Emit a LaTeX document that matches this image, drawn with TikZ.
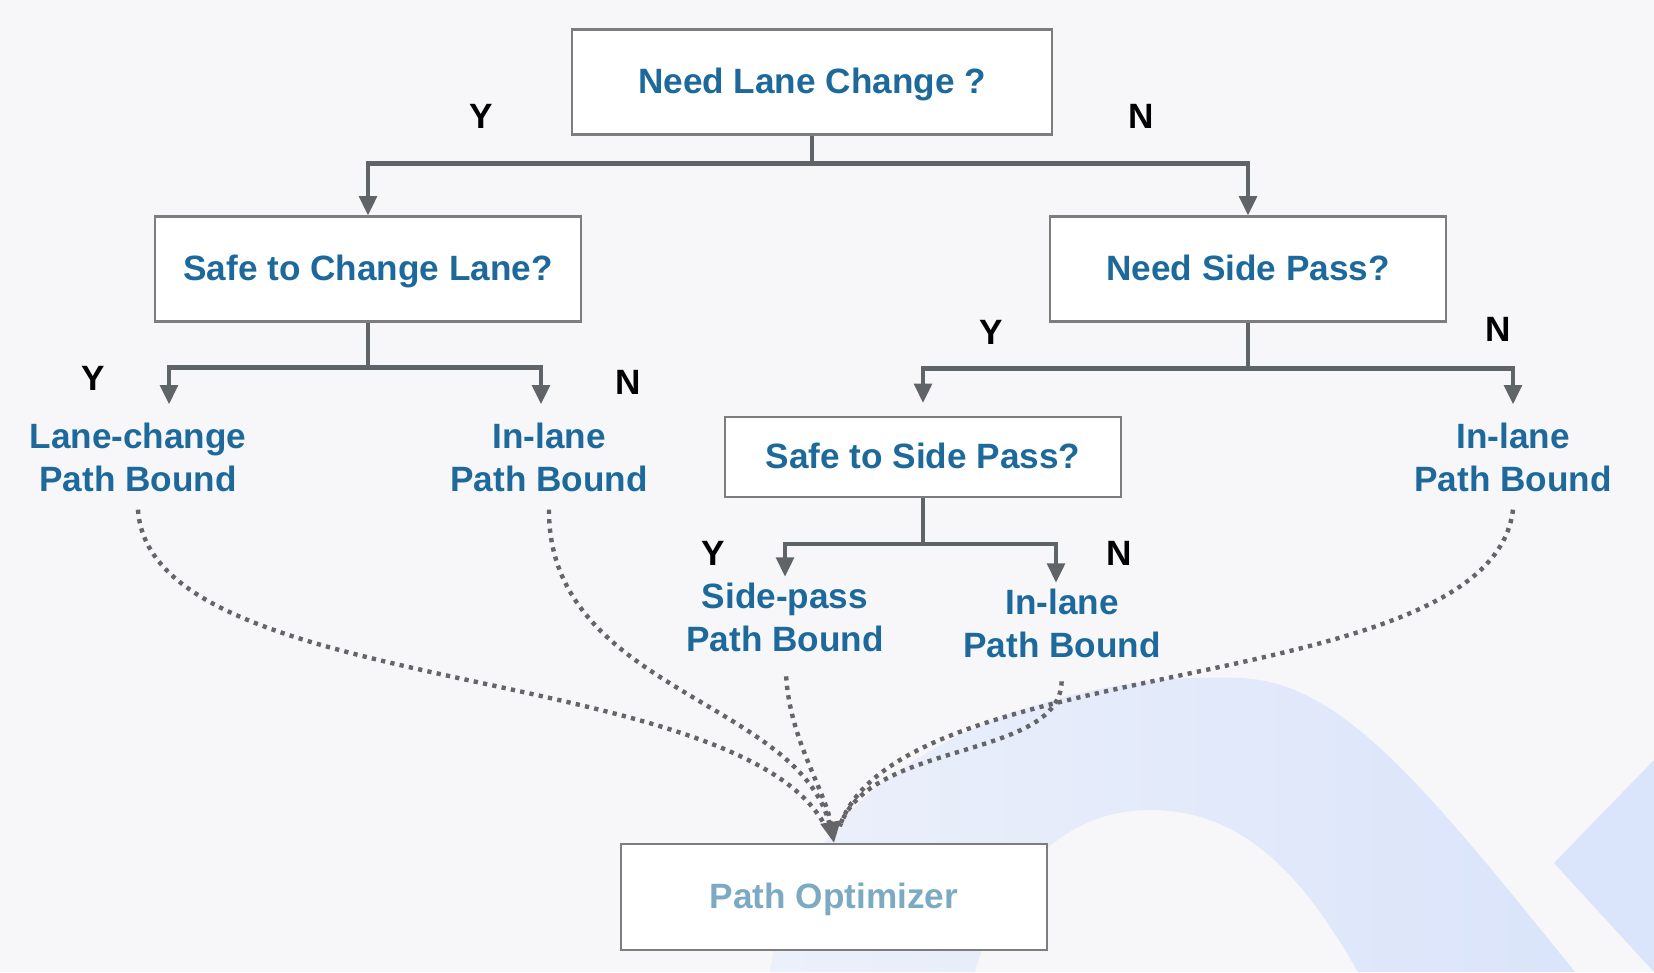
\documentclass[tikz,border=0pt]{standalone}
\usepackage{fontspec}
\setmainfont{Liberation Sans}
\usetikzlibrary{arrows.meta,positioning}
\definecolor{txtblue}{RGB}{30,105,155}
\definecolor{optblue}{RGB}{125,170,195}
\definecolor{boxgray}{RGB}{125,125,125}
\definecolor{conngray}{RGB}{95,100,105}
\definecolor{dotgray}{RGB}{100,100,105}
\definecolor{bggray}{RGB}{247,247,249}
\definecolor{swooshblue}{RGB}{218,228,250}
\definecolor{swooshpale}{RGB}{236,240,250}

\begin{document}
\begin{tikzpicture}[
        x=0.01cm, y=-0.01cm,
        box/.style={rectangle, draw=boxgray, line width=0.6pt, fill=white, text=txtblue,
            font=\fontsize{10}{12.2}\selectfont\bfseries, text height=7.3pt, text depth=0.5pt,
            minimum height=1.05cm},
        lbl/.style={align=center, text=txtblue, font=\fontsize{10}{12.2}\selectfont\bfseries,
            inner ysep=5pt, inner xsep=2pt},
        yn/.style={font=\fontsize{10}{12}\selectfont\bfseries, text=black},
        conn/.style={draw=conngray, line width=1.2pt, -{Triangle[length=5.5pt,width=5pt]}},
        dots/.style={draw=dotgray, line width=1.25pt, dash pattern=on 1.2pt off 1.5pt}
    ]
        % Background
        \fill[bggray] (0,0) rectangle (1654,972);
        \shade[left color=swooshpale, right color=swooshblue] (770,972) .. controls (800,760) and (1050,670) .. (1240,678)
            .. controls (1340,682) and (1420,780) .. (1575,972) -- (1358,972)
            .. controls (1300,870) and (1240,810) .. (1150,810)
            .. controls (1060,810) and (1000,880) .. (975,972) -- cycle;
        \fill[swooshblue] (1554,863) -- (1654,760) -- (1654,972) -- cycle;
        
        % Define decisions
        \node[box, minimum width=4.79cm] (need) at (812,82) {Need Lane Change ?};
        \node[box, minimum width=4.25cm] (safe) at (368,269) {Safe to Change Lane?};
        \node[box, minimum width=3.96cm] (side) at (1248,269) {Need Side Pass?};
        \node[box, minimum width=3.96cm, minimum height=0.8cm] (ssp) at (923,457) {Safe to Side Pass?};
        \node[box, minimum width=4.26cm, minimum height=1.06cm, text=optblue] (opt) at (834,897) {Path Optimizer};
        
        % Define path bounds
        \node[lbl] (lcb) at (138,457) {Lane-change\\Path Bound};
        \node[lbl] (ilb1) at (549,457) {In-lane\\Path Bound};
        \node[lbl] (ilb2) at (1513,457) {In-lane\\Path Bound};
        \node[lbl, inner ysep=1.5pt] (spb) at (785,617) {Side-pass\\Path Bound};
        \node[lbl, inner ysep=1.5pt] (ilb3) at (1062,623) {In-lane\\Path Bound};
        
        % Y / N labels
        \node[yn] (y1) at (481,116) {Y};
        \node[yn] (n1) at (1141,116) {N};
        \node[yn] (y2) at (93,378) {Y};
        \node[yn] (n2) at (628,382) {N};
        \node[yn] (y3) at (991,332) {Y};
        \node[yn] (n3) at (1498,329) {N};
        \node[yn] (y4) at (713,553) {Y};
        \node[yn] (n4) at (1119,553) {N};
        
        % Need Lane Change -> Safe to Change Lane / Need Side Pass
        \draw[conn] (need.south) -- ++(0,28) -| (safe.north);
        \draw[conn] (need.south) -- ++(0,28) -| (side.north);
        
        % Safe to Change Lane -> bounds
        \draw[conn] (safe.south) -- ++(0,45) -| ([xshift=0.31cm]lcb.north);
        \draw[conn] (safe.south) -- ++(0,45) -| ([xshift=-0.08cm]ilb1.north);
        
        % Need Side Pass -> Safe to Side Pass / In-lane
        \draw[conn, shorten >=0.13cm] (side.south) -- ++(0,46) -| (ssp.north);
        \draw[conn] (side.south) -- ++(0,46) -| (ilb2.north);
        
        % Safe to Side Pass -> bounds
        \draw[conn] (ssp.south) -- ++(0,46) -| (spb.north);
        \draw[conn] (ssp.south) -- ++(0,46) -| ([xshift=-0.06cm]ilb3.north);
        
        % Bounds -> Path Optimizer
        \draw[dots, shorten >=5pt] (lcb.south) .. controls (150,700) and (740,660) .. (opt.north);
        \draw[dots, shorten >=5pt] (ilb1.south) .. controls (548,690) and (800,700) .. (opt.north);
        \draw[dots, shorten >=5pt, shorten <=0.18cm] (ilb3.south) .. controls (1060,760) and (870,740) .. (opt.north);
        \draw[dots, shorten >=5pt] (ilb2.south) .. controls (1490,700) and (900,650) .. (opt.north);
        \draw[dots, shorten <=0.19cm, -{Triangle[length=6pt,width=5.5pt]}] (spb.south) .. controls (790,740) and (825,790) .. (opt.north);
        
    \end{tikzpicture}
\end{document}
